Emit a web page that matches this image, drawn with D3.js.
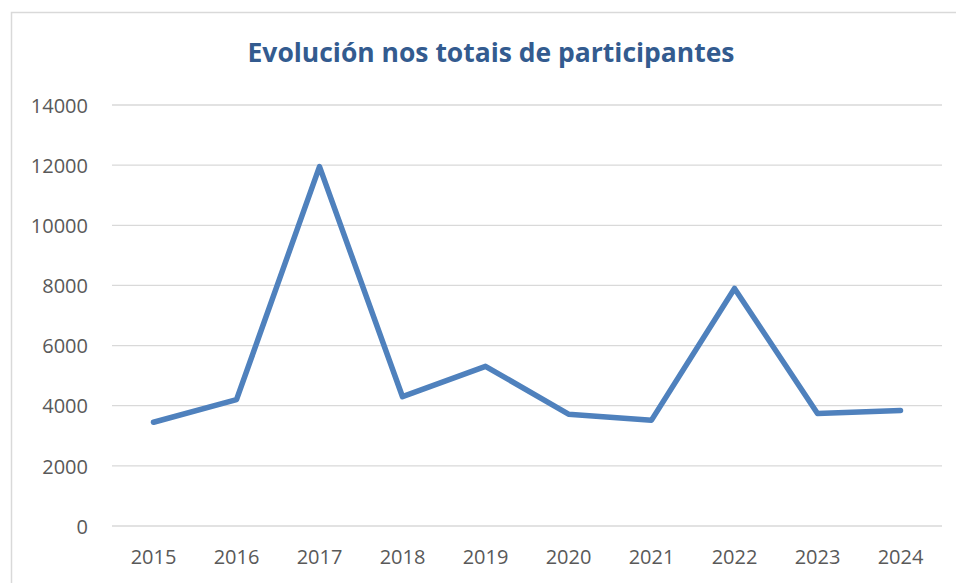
<!DOCTYPE html>
<html>
<head>
<meta charset="utf-8">
<title>Evolución nos totais de participantes</title>
<script src="https://d3js.org/d3.v7.min.js"></script>
<style>
  html, body { margin: 0; padding: 0; background: #fff; }
  svg { display: block; }
  .tick text { font-family: "Open Sans", sans-serif; fill: #595959; }
</style>
</head>
<body>
<script>
// data
const years = ["2015", "2016", "2017", "2018", "2019", "2020", "2021", "2022", "2023", "2024"];
const participants = [3450, 4200, 11950, 4300, 5310, 3720, 3520, 7900, 3740, 3840];
const yTicks = [0, 2000, 4000, 6000, 8000, 10000, 12000, 14000];
const chartTitle = "Evolución nos totais de participantes";

const w = 956, h = 583;
const plotLeft = 112, plotRight = 942, plotTop = 105, plotBottom = 526;

const svg = d3.select("body").append("svg")
  .attr("width", w)
  .attr("height", h);

// chart frame (runs off the page on the right and bottom)
svg.append("rect")
  .attr("x", 11.5).attr("y", 12.5)
  .attr("width", 1000).attr("height", 1000)
  .attr("fill", "#fff")
  .attr("stroke", "#d9d9d9")
  .attr("stroke-width", 1.5);

const x = d3.scaleBand().domain(years).range([plotLeft, plotRight]);
const y = d3.scaleLinear().domain([0, 14000]).range([plotBottom, plotTop]);

// gridlines
svg.append("g")
  .selectAll("line")
  .data(yTicks)
  .join("line")
  .attr("x1", plotLeft).attr("x2", plotRight)
  .attr("y1", d => y(d)).attr("y2", d => y(d))
  .attr("stroke", "#d9d9d9")
  .attr("stroke-width", 1.3);

// y axis labels
const yAxis = svg.append("g")
  .attr("transform", "translate(" + (plotLeft - 24) + ",0)")
  .call(d3.axisLeft(y).tickValues(yTicks).tickSize(0).tickPadding(0).tickFormat(d3.format("d")));
yAxis.select(".domain").remove();
yAxis.selectAll("text").style("font-size", "20px").attr("dy", "0.36em");

// x axis labels
const xAxis = svg.append("g")
  .attr("transform", "translate(0," + plotBottom + ")")
  .call(d3.axisBottom(x).tickSize(0).tickPadding(24));
xAxis.select(".domain").remove();
xAxis.selectAll("text").style("font-size", "20px");

// the line
const line = d3.line()
  .x((d, i) => x(years[i]) + x.bandwidth() / 2)
  .y(d => y(d));

svg.append("path")
  .datum(participants)
  .attr("d", line)
  .attr("fill", "none")
  .attr("stroke", "#4f81bd")
  .attr("stroke-width", 5.5)
  .attr("stroke-linejoin", "round")
  .attr("stroke-linecap", "round");

// title
svg.append("text")
  .attr("x", 491)
  .attr("y", 62)
  .attr("text-anchor", "middle")
  .attr("textLength", 487)
  .attr("lengthAdjust", "spacingAndGlyphs")
  .style("font-family", "'Open Sans', sans-serif")
  .style("font-weight", "bold")
  .style("font-size", "27px")
  .style("fill", "#335b8f")
  .text(chartTitle);
</script>
</body>
</html>
